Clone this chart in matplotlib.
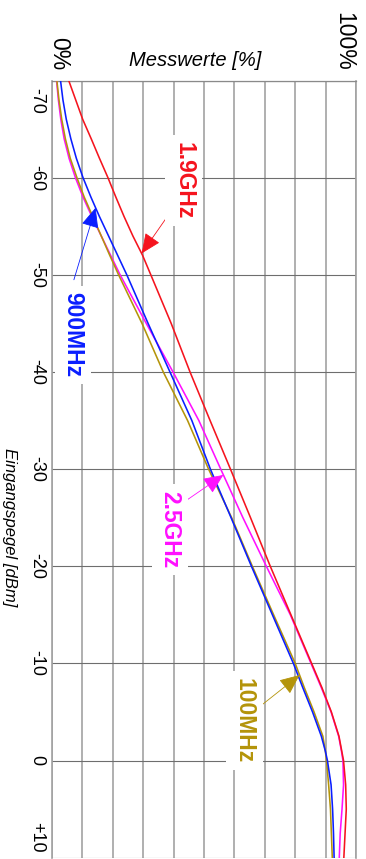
import numpy as np
import matplotlib
matplotlib.use("Agg")
import matplotlib.pyplot as plt

plt.rcParams['font.family'] = ['Liberation Sans', 'DejaVu Sans']

# input level [dBm] and measured values [%]
dbm = [-70, -68, -66, -64, -62, -60, -58, -56, -54, -52, -50, -45, -40, -35,
       -30, -25, -20, -15, -10, -7.5, -5, -2.5, -1, 0, 2.5, 5, 7.5, 10]

red_19ghz = [5.5, 7.8, 10.1, 12.9, 15.6, 18.4, 21.0, 23.7, 26.6, 29.8, 32.5,
             39.2, 45.4, 52.0, 58.7, 65.3, 71.8, 78.6, 85.4, 88.8, 91.9,
             94.4, 95.3, 95.9, 96.6, 96.8, 96.4, 96.0]
blue_900mhz = [2.8, 3.6, 4.7, 6.2, 8.0, 10.2, 12.8, 15.6, 18.6, 21.6, 24.6,
               31.6, 38.8, 46.0, 52.1, 58.9, 65.6, 72.5, 79.4, 82.5, 85.7,
               88.6, 89.9, 90.6, 91.8, 92.3, 92.6, 92.8]
olive_100mhz = [1.6, 2.3, 3.2, 4.4, 6.0, 8.2, 10.6, 13.4, 16.2, 19.0, 21.9,
                29.6, 36.6, 44.6, 51.5, 59.1, 65.9, 72.9, 80.0, 83.0, 86.2,
                89.1, 89.9, 90.3, 91.0, 91.6, 91.9, 92.2]
magenta_25ghz = [1.5, 2.1, 2.9, 4.0, 5.6, 7.7, 10.2, 13.1, 16.2, 19.3, 22.4,
                 31.0, 39.8, 48.3, 55.5, 62.8, 70.5, 78.4, 85.2, 88.6, 91.8,
                 94.3, 95.2, 95.7, 95.9, 95.4, 94.8, 94.5]

dbm_ticks = [-70, -60, -50, -40, -30, -20, -10, 0, 10]
dbm_labels = ["-70", "-60", "-50", "-40", "-30", "-20", "-10", "0", "+10"]

RED = "#f5141e"
BLUE = "#0a1eff"
OLIVE = "#b4940a"
MAGENTA = "#ff10ff"

W, H = 366, 859
fig = plt.figure(figsize=(W / 100, H / 100), dpi=100)
ax = fig.add_axes([52 / W, 1 - 857.7 / H, 304 / W, 777.2 / H])

ax.set_xlim(0, 100)
ax.set_ylim(10, -70)

# grid: percent lines light and thick, dBm lines dark and thin
ax.set_xticks(np.arange(0, 101, 10))
ax.set_yticks(np.arange(-70, 11, 10))
ax.tick_params(length=0, labelbottom=False, labelleft=False)
ax.xaxis.grid(True, color="#a2a2a2", lw=1.2)
ax.yaxis.grid(True, color="#6e6e6e", lw=0.8)
ax.set_axisbelow(True)
for side in ["left", "right"]:
    ax.spines[side].set_color("#a2a2a2")
    ax.spines[side].set_linewidth(1.2)
ax.spines["top"].set_color("#8a8a8a")
ax.spines["top"].set_linewidth(0.9)
ax.spines["bottom"].set_visible(False)

lw = 1.15
ax.plot(magenta_25ghz, dbm, color=MAGENTA, lw=lw, zorder=3)
ax.plot(olive_100mhz, dbm, color=OLIVE, lw=lw, zorder=3)
ax.plot(blue_900mhz, dbm, color=BLUE, lw=lw, zorder=3)
ax.plot(red_19ghz, dbm, color=RED, lw=lw, zorder=3)

# dBm tick labels, rotated like the whole chart
for val, lab in zip(dbm_ticks, dbm_labels):
    dy = 0
    if val == -70:
        dy = -20
    elif val == 10:
        dy = 20
    ax.annotate(lab, xy=(0, val), xycoords=("axes fraction", "data"),
                xytext=(-15.5, dy), textcoords="offset pixels",
                rotation=-90, ha="center", va="center", fontsize=13,
                annotation_clip=False)

# series labels with arrows
labels = [
    ("1.9GHz", RED, red_19ghz, -52.2, (26.7, 38.3), (43.3, -59.7)),
    ("900MHz", BLUE, blue_900mhz, -56.9, (-21.7, -72), (6.9, -43.8)),
    ("2.5GHz", MAGENTA, magenta_25ghz, -29.4, (-40.7, -28), (38.8, -23.8)),
    ("100MHz", OLIVE, olive_100mhz, -8.8, (-41.7, -33), (63.2, -4.1)),
]
for text, col, series, tip_dbm, tail, pos in labels:
    tip_x = np.interp(tip_dbm, dbm, series)
    ax.annotate("", xy=(tip_x, tip_dbm), xytext=tail,
                textcoords="offset pixels",
                arrowprops=dict(arrowstyle="-|>,head_length=1.25,head_width=0.55",
                                color=col, lw=0.6, mutation_scale=10,
                                shrinkA=0, shrinkB=0),
                zorder=4)
    ax.text(pos[0], pos[1], text, color=col, fontsize=16.5, fontweight="bold",
            rotation=-90, ha="center", va="center", zorder=5,
            bbox=dict(boxstyle="square,pad=0.3", fc="white", ec="none"))


def px(x, y):
    return x / W, 1 - y / H


fig.text(*px(58.5, 54), "0%", rotation=-90, ha="center", va="center",
         fontsize=16.5)
fig.text(*px(344, 41.5), "100%", rotation=-90, ha="center", va="center",
         fontsize=16.5)
fig.text(*px(195, 61), "Messwerte [%]", style="italic", ha="center",
         va="center", fontsize=14.5)
fig.text(*px(9, 527), "Eingangspegel [dBm]", style="italic", rotation=-90,
         ha="center", va="center", fontsize=12)

fig.savefig("out.png", dpi=100, facecolor="white")
